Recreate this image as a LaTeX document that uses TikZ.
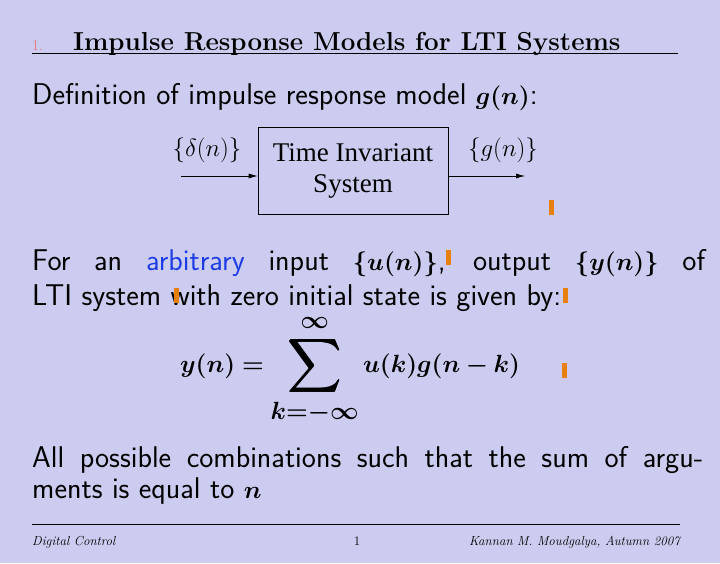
\documentclass[tikz,border=0pt]{standalone}
\usepackage{amsmath,amssymb,bm}
\usepackage{fontspec}
\newfontfamily\timesfont{Liberation Serif}
\usetikzlibrary{positioning,arrows.meta}
\definecolor{slideBg}{RGB}{204,204,240}
\definecolor{barColor}{RGB}{232,128,16}
\definecolor{numColor}{RGB}{230,110,110}
\definecolor{linkColor}{RGB}{30,60,230}
\newcommand{\bigmath}[1]{{\fontsize{35}{38}\selectfont$\bm{#1}$}}
\tikzset{
  txt/.style={anchor=base west, inner sep=0pt, font=\sffamily\fontsize{30}{34}\selectfont},
  foot/.style={anchor=base, inner sep=0pt, font=\itshape\fontsize{13}{15}\selectfont},
  sysbox/.style={draw, line width=0.7pt, minimum width=190pt, minimum height=87pt, align=center,
    font=\timesfont\fontsize{27}{31}\selectfont},
  sig/.style={-{Latex[length=9pt,width=5pt]}, line width=0.7pt},
  bar/.style={fill=barColor, draw=none},
  lbl/.style={inner sep=0pt, font=\fontsize{27}{30}\selectfont}
}
\begin{document}
\begin{tikzpicture}[x=1pt,y=-1pt]
  \fill[slideBg] (0,0) rectangle (720,563);
  \useasboundingbox (0,0) rectangle (720,563);
  % title
  \node (num) [anchor=base west, inner sep=0pt, text=numColor, font=\fontsize{15}{18}\selectfont] at (32,50) {1.};
  \node (title) [anchor=base west, inner sep=0pt, font=\bfseries\fontsize{26}{30}\selectfont] at (73,50) {Impulse Response Models for LTI Systems};
  \draw[line width=1pt] (32,53) -- (678,53);
  % definition
  \node (def) [txt] at (32,104) {Definition of impulse response model \bigmath{g(n)}:};
  % block diagram
  \node (sys) [sysbox] at (353,171) {Time Invariant\\System};
  \coordinate (inL) at (181,176);
  \coordinate (outR) at (525,176);
  \draw[sig] (inL) -- (inL -| sys.west);
  \draw[sig] (outR -| sys.east) -- (outR);
  \node (inlbl) [lbl] at (207,150) {$\{\delta(n)\}$};
  \node (outlbl) [lbl] at (503,150) {$\{g(n)\}$};
  % body
  \node (l1) [txt] at (32,270) {\hbox to 673pt{For an \textcolor{linkColor}{arbitrary} input \bigmath{\{u(n)\}}, output \bigmath{\{y(n)\}} of}};
  \node (l2) [txt] at (32,305) {LTI system with zero initial state is given by:};
  \node (eq) [inner sep=0pt, font=\fontsize{37}{40}\selectfont] at (350,370)
    {$\displaystyle \bm{y(n) = \sum_{k=-\infty}^{\infty} u(k)g(n-k)}$};
  \node (l3) [txt] at (32,467) {\hbox to 671pt{All possible combinations such that the sum of argu-}};
  \node (l4) [txt] at (32,498) {ments is equal to \bigmath{n}};
  % orange marks
  \foreach \bx/\by in {549/200, 446/250, 174/288, 563/288, 562/363}
    \fill[bar] (\bx,\by) rectangle ++(5,15);
  % footer
  \draw[line width=0.5pt] (32,524) -- (680,524);
  \node (fl) [foot, anchor=base west] at (32,545) {Digital Control};
  \node (fc) [foot, font=\fontsize{13}{15}\selectfont] at (357,545) {1};
  \node (fr) [foot, anchor=base east] at (680,545) {Kannan M. Moudgalya, Autumn 2007};
\end{tikzpicture}
\end{document}
